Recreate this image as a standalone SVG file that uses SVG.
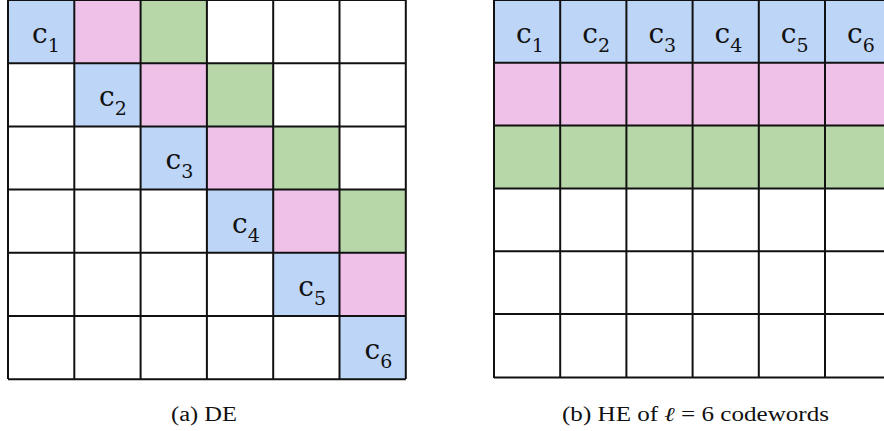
<svg xmlns="http://www.w3.org/2000/svg" width="884" height="431" viewBox="0 0 884 431">
<style>
.b{fill:#BDD5F7}.p{fill:#EFC0E8}.g{fill:#B7D7A8}
.ln{stroke:#111;stroke-width:2;fill:none}
.c{font-family:"DejaVu Serif","Liberation Serif",serif;font-size:28px;fill:#111}
.s{font-size:19px}
</style>
<rect width="884" height="431" fill="#fff"/>
<g id="gridA">
<rect class="b" x="8" y="0" width="66.3" height="63.2"/>
<rect class="p" x="74.3" y="0" width="66.3" height="63.2"/>
<rect class="g" x="140.6" y="0" width="66.3" height="63.2"/>
<rect class="b" x="74.3" y="63.2" width="66.3" height="63.2"/>
<rect class="p" x="140.6" y="63.2" width="66.3" height="63.2"/>
<rect class="g" x="206.9" y="63.2" width="66.3" height="63.2"/>
<rect class="b" x="140.6" y="126.4" width="66.3" height="63.2"/>
<rect class="p" x="206.9" y="126.4" width="66.3" height="63.2"/>
<rect class="g" x="273.2" y="126.4" width="66.3" height="63.2"/>
<rect class="b" x="206.9" y="189.6" width="66.3" height="63.2"/>
<rect class="p" x="273.2" y="189.6" width="66.3" height="63.2"/>
<rect class="g" x="339.5" y="189.6" width="66.3" height="63.2"/>
<rect class="b" x="273.2" y="252.8" width="66.3" height="63.2"/>
<rect class="p" x="339.5" y="252.8" width="66.3" height="63.2"/>
<rect class="b" x="339.5" y="316" width="66.3" height="63.2"/>
<path class="ln" d="M8,0V379M74.3,0V379M140.6,0V379M206.9,0V379M273.2,0V379M339.5,0V379M405.8,0V379M8,0H405.8M8,63.2H405.8M8,126.4H405.8M8,189.6H405.8M8,252.8H405.8M8,316H405.8M8,379.2H405.8"/>
<text class="c" x="32" y="43">c<tspan class="s" dy="9">1</tspan></text>
<text class="c" x="99" y="106.2">c<tspan class="s" dy="9">2</tspan></text>
<text class="c" x="165.6" y="169.4">c<tspan class="s" dy="9">3</tspan></text>
<text class="c" x="232" y="232.6">c<tspan class="s" dy="9">4</tspan></text>
<text class="c" x="298.2" y="295.8">c<tspan class="s" dy="9">5</tspan></text>
<text class="c" x="364.5" y="359">c<tspan class="s" dy="9">6</tspan></text>
</g>
<g id="gridB">
<rect class="b" x="494" y="0" width="400" height="62.8"/>
<rect class="p" x="494" y="62.8" width="400" height="62.8"/>
<rect class="g" x="494" y="125.6" width="400" height="62.8"/>
<path class="ln" d="M494,0V378M560.2,0V378M626.4,0V378M692.6,0V378M758.8,0V378M825,0V378M494,0H890M494,62.8H890M494,125.6H890M494,188.4H890M494,251.2H890M494,314H890M494,377.6H890"/>
<text class="c" x="516" y="43">c<tspan class="s" dy="9">1</tspan></text>
<text class="c" x="582.2" y="43">c<tspan class="s" dy="9">2</tspan></text>
<text class="c" x="648.4" y="43">c<tspan class="s" dy="9">3</tspan></text>
<text class="c" x="714.6" y="43">c<tspan class="s" dy="9">4</tspan></text>
<text class="c" x="780.8" y="43">c<tspan class="s" dy="9">5</tspan></text>
<text class="c" x="847" y="43">c<tspan class="s" dy="9">6</tspan></text>
</g>
<g id="captions" font-family="Liberation Serif, Times New Roman, serif" font-size="20" fill="#111">
<text x="171" y="421" textLength="66" lengthAdjust="spacingAndGlyphs">(a) DE</text>
<text x="562" y="421" textLength="267" lengthAdjust="spacingAndGlyphs">(b) HE of <tspan font-style="italic">ℓ</tspan> = 6 codewords</text>
</g>
</svg>
